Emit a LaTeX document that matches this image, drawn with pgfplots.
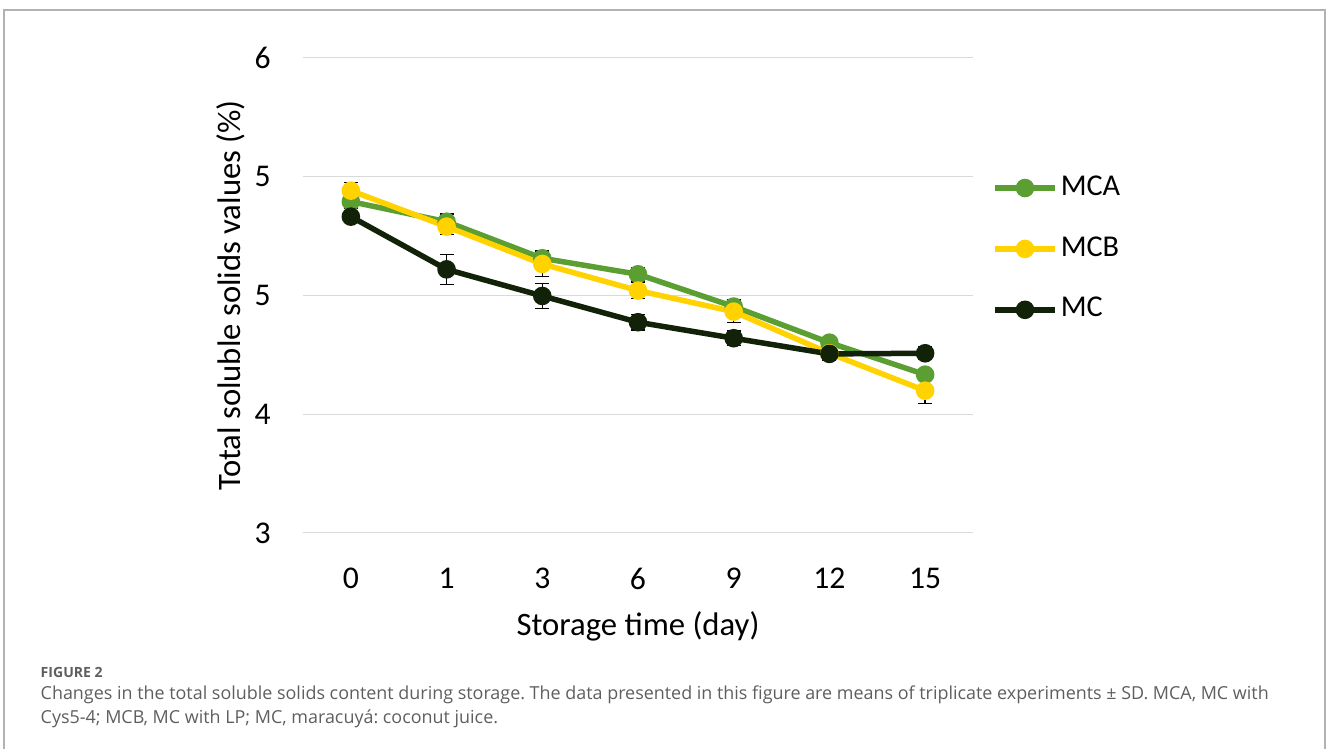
\documentclass[border=0pt]{standalone}
\usepackage{pgfplots}
\pgfplotsset{compat=1.18}
\usepackage{fontspec}
\setmainfont{Carlito}
\newfontfamily\capfont{Open Sans}
\usetikzlibrary{calc}
\definecolor{mca}{HTML}{5B9E31}
\definecolor{mcb}{HTML}{FFD200}
\definecolor{mcc}{HTML}{112208}
\definecolor{gridc}{HTML}{D9D9D9}
\definecolor{capgray}{HTML}{5E5E5E}
\pgfplotstableread{
x y e
0 5.093 0.04
1 4.966 0.05
2 4.735 0.045
3 4.634 0.044
4 4.430 0.04
5 4.202 0.03
6 4.000 0.03
}\mca
\pgfplotstableread{
x y e
0 5.162 0.05
1 4.935 0.05
2 4.699 0.08
3 4.531 0.05
4 4.398 0.07
5 4.135 0.03
6 3.899 0.08
}\mcb
\pgfplotstableread{
x y e
0 4.998 0.02
1 4.665 0.095
2 4.497 0.08
3 4.331 0.05
4 4.230 0.045
5 4.131 0.04
6 4.135 0.04
}\mcc
\frenchspacing
\begin{document}
\begin{tikzpicture}
\begin{axis}[
  name=ax, at={(0,0)}, anchor=south west,
  width=67mm, height=47.5mm, scale only axis,
  xmin=-0.5, xmax=6.5, ymin=3, ymax=6,
  xtick={0,...,6}, xticklabels={0,1,3,6,9,12,15},
  ytick={3,3.75,4.5,5.25,6}, yticklabels={3,4,5,5,6},
  ymajorgrids, grid style={gridc, line width=0.1mm},
  axis line style={draw=none}, major tick length=0pt,
  tick label style={font=\fontsize{9}{10}\selectfont},
  xticklabel style={yshift=-2.25mm},
  yticklabel style={xshift=-2mm},
  xlabel={Storage time (day)}, ylabel={Total soluble solids values (\%)},
  label style={font=\fontsize{9.3}{11}\selectfont},
  xlabel style={at={(axis description cs:0.5,-0.1958)}, anchor=center},
  ylabel style={at={(axis description cs:-0.1075,0.5)}, anchor=center},
  legend style={at={(axis description cs:1.012,0.775)}, anchor=north west, draw=none, fill=none,
    font=\fontsize{8.6}{10}\selectfont, row sep=3.0mm, nodes={inner sep=0.3mm}},
  legend cell align=left,
  every axis plot/.append style={line width=0.55mm, mark=*, mark size=0.65mm},
  error bars/error bar style={black, line width=0.15mm},
  error bars/error mark options={rotate=90, black, mark size=0.7mm, line width=0.15mm},
  clip=false,
]
\addplot[mca, mark options={fill=mca}, error bars/.cd, y dir=both, y explicit] table[x=x,y=y,y error=e]{\mca};
\addlegendentry{MCA}
\addplot[mcb, mark options={fill=mcb}, error bars/.cd, y dir=both, y explicit] table[x=x,y=y,y error=e]{\mcb};
\addlegendentry{MCB}
\addplot[mcc, mark options={fill=mcc}, error bars/.cd, y dir=both, y explicit] table[x=x,y=y,y error=e]{\mcc};
\addlegendentry{MC}
\end{axis}
\coordinate (O) at ($(ax.south west)+(-30.3mm,-21.6mm)$);
\pgfresetboundingbox
\useasboundingbox (O) rectangle ++(132.8mm,74.9mm);
\begin{scope}[shift={(O)}, x=0.1mm, y=0.1mm]
\draw[gray!60, line width=0.2mm] (4,-10) -- (4,739) -- (1325,739) -- (1325,-10);
\node[anchor=west, inner sep=0, text=capgray, font=\capfont\bfseries\fontsize{4.0}{5}\selectfont] at (40,77) {FIGURE 2};
\node[anchor=west, inner sep=0, text=capgray, font=\capfont\fontsize{5.1}{6}\selectfont] at (40,54) {Changes in the total soluble solids content during storage. The data presented in this figure are means of triplicate experiments ± SD. MCA, MC with};
\node[anchor=west, inner sep=0, text=capgray, font=\capfont\fontsize{5.1}{6}\selectfont] at (40,30) {Cys5-4; MCB, MC with LP; MC, maracuyá: coconut juice.};
\end{scope}
\end{tikzpicture}
\end{document}
